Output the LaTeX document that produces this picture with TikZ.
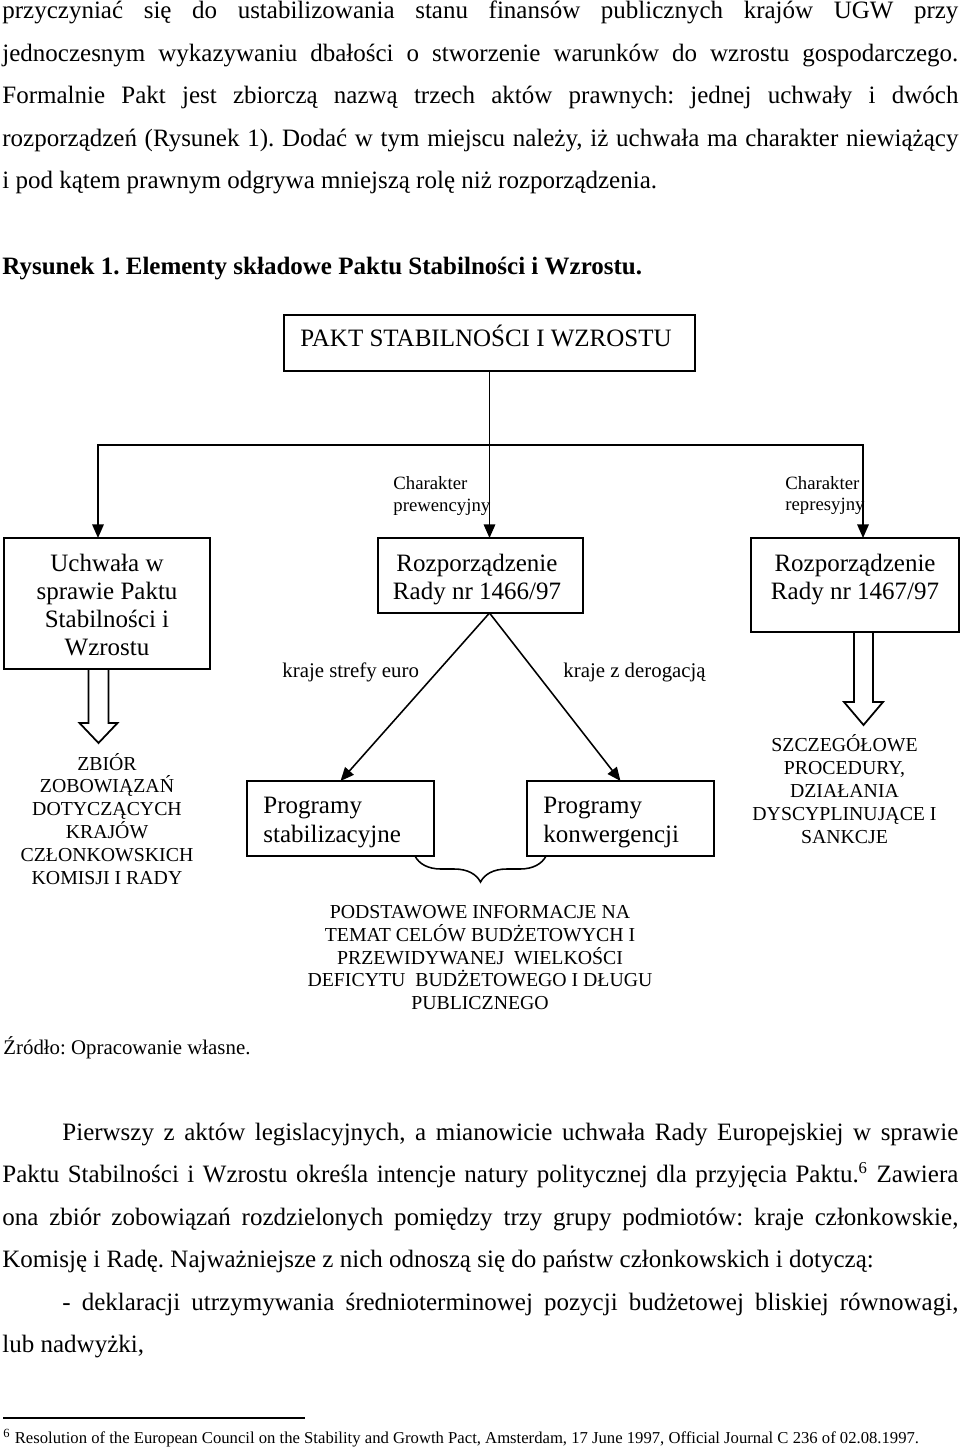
\documentclass[tikz,border=0pt]{standalone}
\usepackage{fontspec}
\setmainfont{Liberation Serif}
\usetikzlibrary{arrows.meta,decorations.pathreplacing,calc}
\frenchspacing
\newcommand\jl[2]{\hbox to #1{\spaceskip=0.25em plus 3em minus 0.08em\relax #2}}
\begin{document}
\begin{tikzpicture}[x=0.48pt,y=-0.48pt,
  box/.style={draw, line width=0.85pt, inner sep=0, outer sep=0},
  conn/.style={line width=0.75pt},
  arr/.style={conn, -{Triangle[length=6.5pt,width=5.5pt]}},
  body/.style={font=\fontsize{12}{14}\selectfont, inner sep=0, anchor=base west},
  btxt/.style={font=\fontsize{12}{14}\selectfont, inner sep=0, anchor=base},
  caps/.style={font=\fontsize{9.5}{11}\selectfont, inner sep=0, anchor=base},
  lab/.style={font=\fontsize{10}{12}\selectfont, inner sep=0, anchor=base west},
  small/.style={font=\fontsize{9}{10}\selectfont, inner sep=0, anchor=base west},
  foot/.style={font=\fontsize{8}{9.5}\selectfont, inner sep=0, anchor=base west},
]
\fill[white] (0,0) rectangle (960,1450);
\useasboundingbox (0,0) rectangle (960,1450);

% ---------- text above ----------
\node[body] (p1) at (2,19) {\jl{956\dimexpr0.48pt}{przyczyniać się do ustabilizowania stanu finansów publicznych krajów UGW przy}};
\node[body] (p2) at (2,61.5) {\jl{956\dimexpr0.48pt}{jednoczesnym wykazywaniu dbałości o stworzenie warunków do wzrostu gospodarczego.}};
\node[body] (p3) at (2,104) {\jl{956\dimexpr0.48pt}{Formalnie Pakt jest zbiorczą nazwą trzech aktów prawnych: jednej uchwały i dwóch}};
\node[body] (p4) at (2,146.5) {\jl{956\dimexpr0.48pt}{rozporządzeń (Rysunek 1). Dodać w tym miejscu należy, iż uchwała ma charakter niewiążący}};
\node[body] (p5) at (2,189) {i pod kątem prawnym odgrywa mniejszą rolę niż rozporządzenia.};
\node[body, font=\fontsize{12}{14}\selectfont\bfseries] (cap) at (2,275) {Rysunek 1. Elementy składowe Paktu Stabilności i Wzrostu.};

% ---------- boxes ----------
\node[box, minimum width=411*0.48pt, minimum height=56*0.48pt] (pakt) at (489.5,343) {};
\node[btxt] (paktT) at (486,347) {PAKT STABILNOŚCI I WZROSTU};

\node[box, minimum width=206*0.48pt, minimum height=131*0.48pt] (uch) at (107,603.5) {};
\node[btxt] (u1) at (107,571) {Uchwała w};
\node[btxt] (u2) at (107,599) {sprawie Paktu};
\node[btxt] (u3) at (107,627) {Stabilności i};
\node[btxt] (u4) at (107,655) {Wzrostu};

\node[box, minimum width=205*0.48pt, minimum height=75*0.48pt] (r66) at (480.5,575.5) {};
\node[btxt] (r66a) at (477,571) {Rozporządzenie};
\node[btxt] (r66b) at (477,599) {Rady nr 1466/97};

\node[box, minimum width=208*0.48pt, minimum height=94*0.48pt] (r67) at (855,585) {};
\node[btxt] (r67a) at (855,571) {Rozporządzenie};
\node[btxt] (r67b) at (855,599) {Rady nr 1467/97};

\node[box, minimum width=187*0.48pt, minimum height=75*0.48pt] (pstab) at (340.5,818.5) {};
\node[body] (ps1) at (263,813) {Programy};
\node[body] (ps2) at (263,842) {stabilizacyjne};

\node[box, minimum width=187*0.48pt, minimum height=75*0.48pt] (pkon) at (620.5,818.5) {};
\node[body] (pk1) at (543,813) {Programy};
\node[body] (pk2) at (543,842) {konwergencji};

% ---------- connectors ----------
\coordinate (hub) at (pakt.south |- 0,445);
\draw[conn] (pakt.south) -- (hub);
\draw[arr] (hub) -- (pakt.south |- r66.north);
\draw[arr] (hub) -| ($(uch.north)+(-9,0)$);
\draw[arr] (hub) -| ($(r67.north)+(8,0)$);
\coordinate (split) at (pakt.south |- r66.south);
\draw[arr] (split) -- (pstab.north);
\draw[arr] (split) -- (pkon.north);

\node[small] (ch1) at (393,489) {Charakter};
\node[small] (ch2) at (393,511) {prewencyjny};
\node[small] (ch3) at (785,489) {Charakter};
\node[small] (ch4) at (785,510) {represyjny};

\node[lab] (kse) at (282,677) {kraje strefy euro};
\node[lab] (kzd) at (563,677) {kraje z derogacją};

% hollow block arrows
\draw[box, line join=miter] ($(uch.south)+(-18.5,0)$) -- ++(0,54) -- ++(-9,0) -- ++(19,20) -- ++(19,-20) -- ++(-9,0) -- ++(0,-54);
\draw[box, line join=miter] ($(r67.south)+(-1,0)$) -- ++(0,70) -- ++(-10,0) -- ++(19.5,23) -- ++(19.5,-23) -- ++(-10,0) -- ++(0,-70);

% brace
\draw[conn, decorate, decoration={brace, mirror, amplitude=12.5pt}] ($(pstab.south east)+(-19,0)$) -- ($(pkon.south west)+(19,0)$);

% ---------- capital texts ----------
\node[caps] (z1) at (107,770) {ZBIÓR};
\node[caps] (z2) at (107,792.8) {ZOBOWIĄZAŃ};
\node[caps] (z3) at (107,815.6) {DOTYCZĄCYCH};
\node[caps] (z4) at (107,838.4) {KRAJÓW};
\node[caps] (z5) at (107,861.2) {CZŁONKOWSKICH};
\node[caps] (z6) at (107,884) {KOMISJI I RADY};

\node[caps] (s1) at (844.5,751.5) {SZCZEGÓŁOWE};
\node[caps] (s2) at (844.5,774.5) {PROCEDURY,};
\node[caps] (s3) at (844.5,797.5) {DZIAŁANIA};
\node[caps] (s4) at (844.5,820.5) {DYSCYPLINUJĄCE I};
\node[caps] (s5) at (844.5,843.5) {SANKCJE};

\node[caps] (b1) at (480,918.5) {PODSTAWOWE INFORMACJE NA};
\node[caps] (b2) at (480,941.3) {TEMAT CELÓW BUDŻETOWYCH I};
\node[caps] (b3) at (480,964) {PRZEWIDYWANEJ\ \ WIELKOŚCI};
\node[caps] (b4) at (480,986.8) {DEFICYTU\ \ BUDŻETOWEGO I DŁUGU};
\node[caps] (b5) at (480,1009.5) {PUBLICZNEGO};

\node[lab] (src) at (3,1054) {Źródło: Opracowanie własne.};

% ---------- text below ----------
\node[body] (q1) at (62,1140) {\jl{896\dimexpr0.48pt}{Pierwszy z aktów legislacyjnych, a mianowicie uchwała Rady Europejskiej w sprawie}};
\node[body] (q2) at (2,1182.5) {\jl{956\dimexpr0.48pt}{Paktu Stabilności i Wzrostu określa intencje natury politycznej dla przyjęcia Paktu.\textsuperscript{6} Zawiera}};
\node[body] (q3) at (2,1225) {\jl{956\dimexpr0.48pt}{ona zbiór zobowiązań rozdzielonych pomiędzy trzy grupy podmiotów: kraje członkowskie,}};
\node[body] (q4) at (2,1267.5) {Komisję i Radę. Najważniejsze z nich odnoszą się do państw członkowskich i dotyczą:};
\node[body] (q5) at (62,1310) {\jl{896\dimexpr0.48pt}{- deklaracji utrzymywania średnioterminowej pozycji budżetowej bliskiej równowagi,}};
\node[body] (q6) at (2,1352.5) {lub nadwyżki,};

\draw[line width=0.6pt] (3,1418) -- (305,1418);
\node[foot] (fn) at (3,1443) {\textsuperscript{6} Resolution of the European Council on the Stability and Growth Pact, Amsterdam, 17 June 1997, Official Journal C 236 of 02.08.1997.};
\end{tikzpicture}
\end{document}
